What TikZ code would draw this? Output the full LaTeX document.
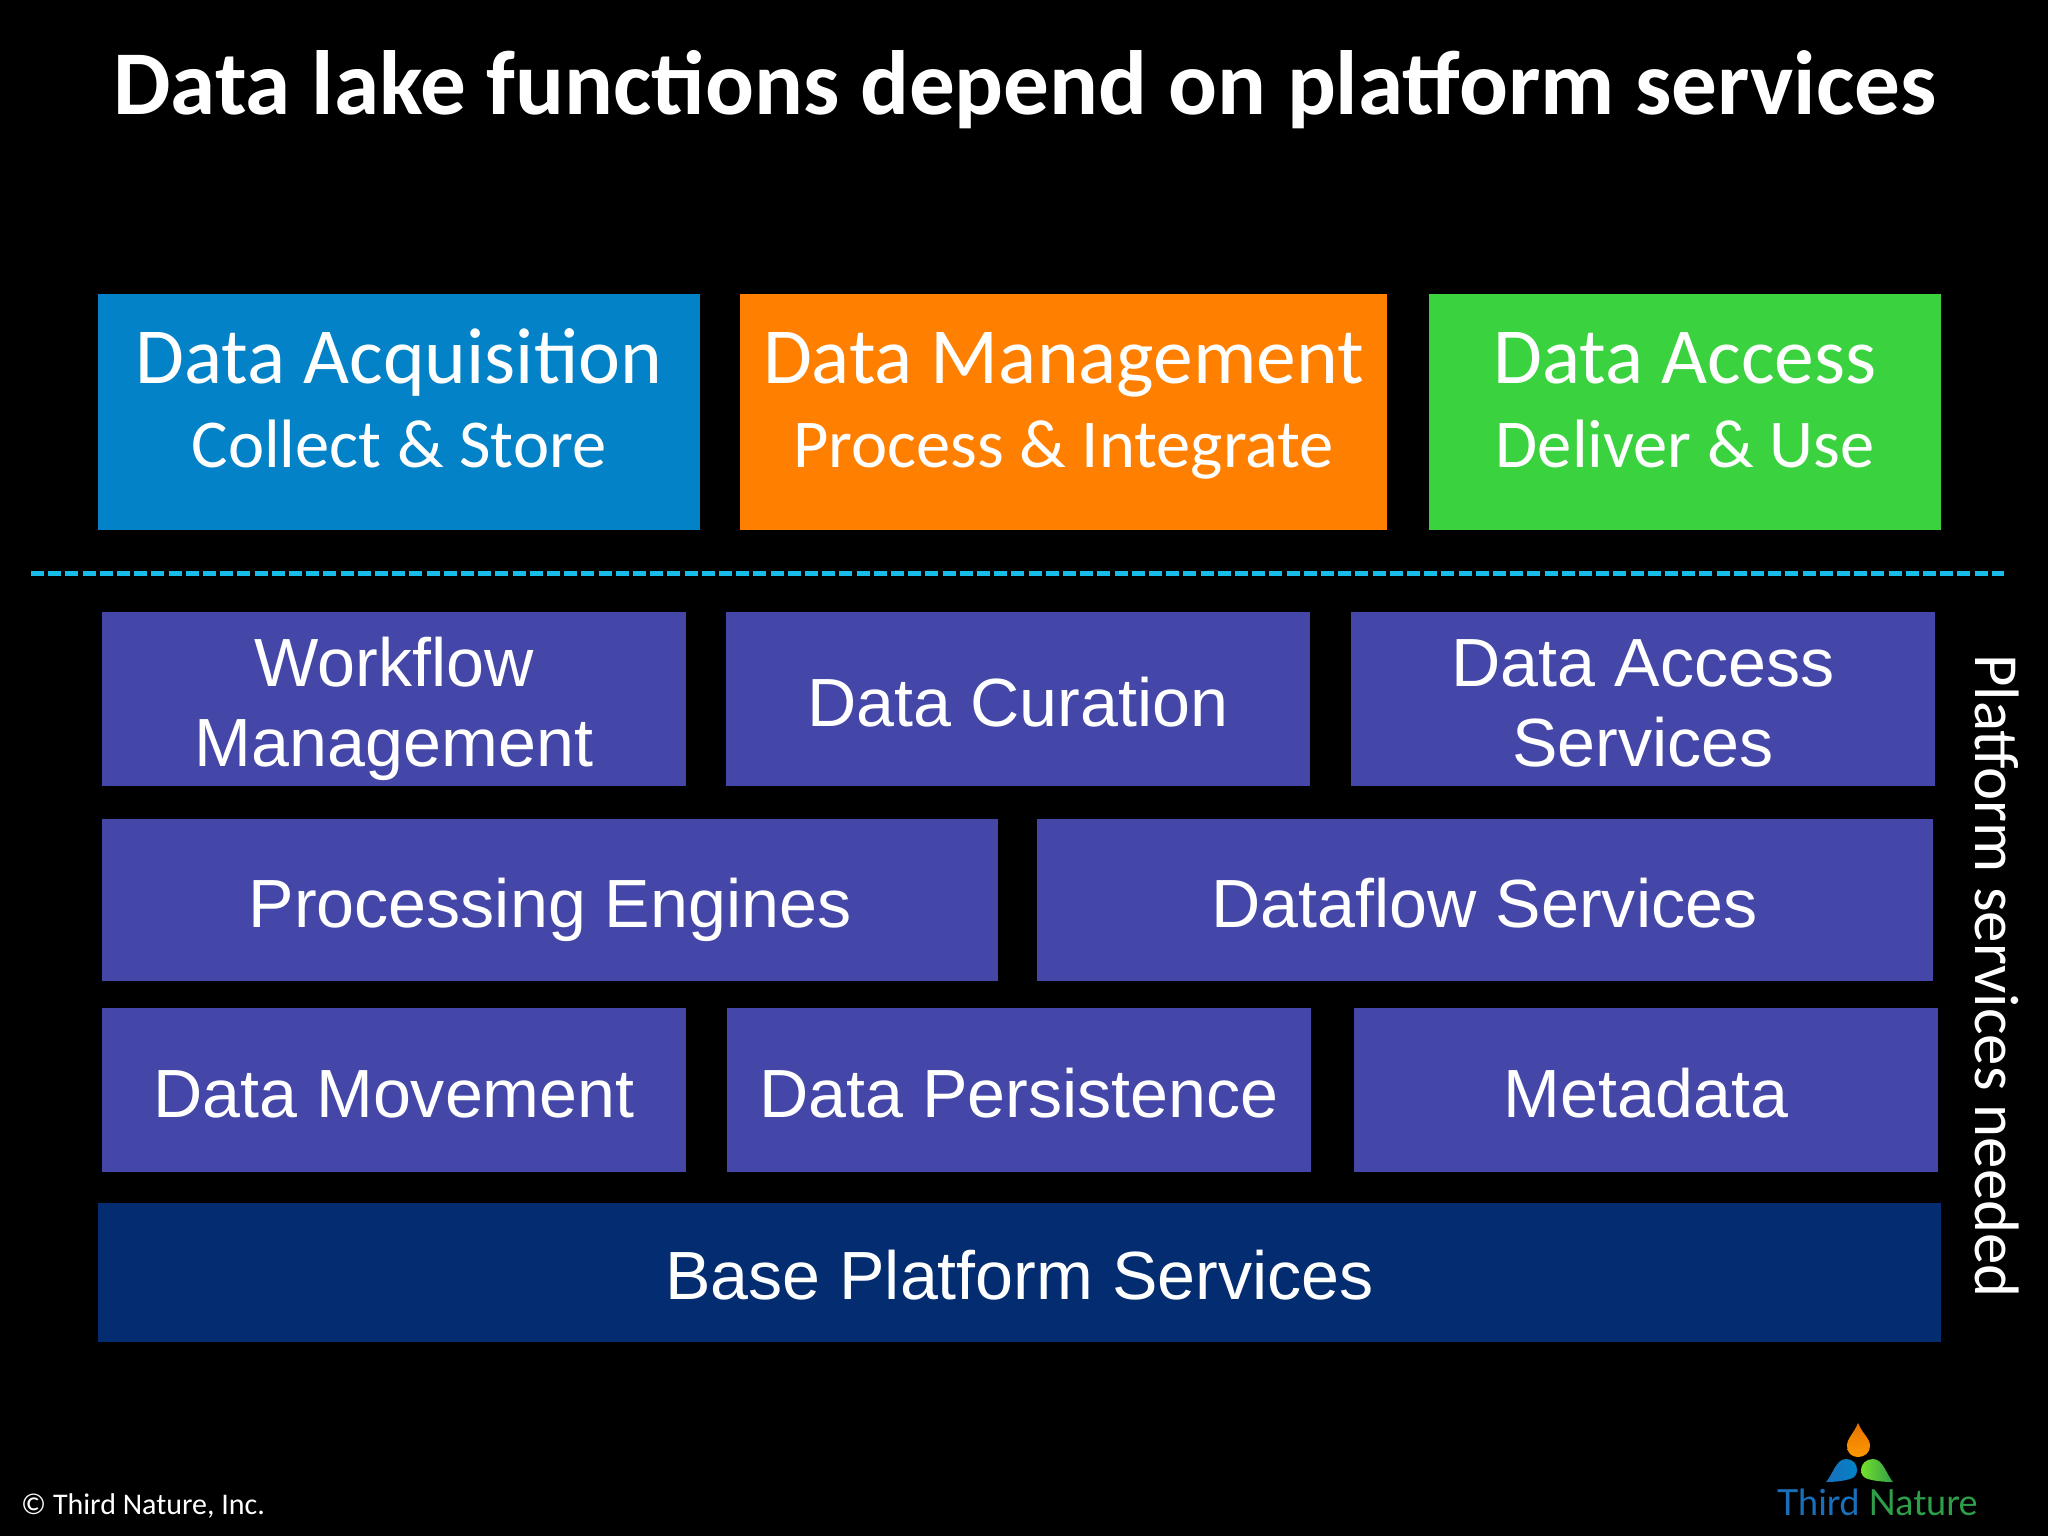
\documentclass[tikz,border=0pt]{standalone}
\usepackage{fontspec}
\setmainfont{Carlito}
\newfontfamily\arialfont{Liberation Sans}
\newfontfamily\logofont{Lato}
\definecolor{acqblue}{HTML}{0382C8}
\definecolor{mgmtorange}{HTML}{FF7F00}
\definecolor{accessgreen}{HTML}{3AD33F}
\definecolor{svcpurple}{HTML}{4447A8}
\definecolor{basenavy}{HTML}{032D70}
\definecolor{dashcyan}{HTML}{18BCE8}
\definecolor{logoblue}{HTML}{1A6FBA}
\definecolor{logogreen}{HTML}{2F9E48}
\newcommand{\fnt}[1]{\fontsize{#1}{#1}\selectfont}
\newcommand{\lift}{\rule[-16pt]{0pt}{87pt}}
\newcommand{\svctext}[2]{\rule{0pt}{71pt}#1\\[12pt]\rule[-16pt]{0pt}{16pt}#2}
\newcommand{\functext}[2]{\rule{0pt}{60pt}#1\\[4pt]{\fnt{68.5}\rule[-33pt]{0pt}{33pt}#2}}

\begin{document}
\begin{tikzpicture}
   [x=1pt,y=-1pt,
    every node/.style={inner sep=0pt,text=white,align=center},
    func/.style={font=\fnt{79.5},minimum height=236pt},
    svc/.style={font=\arialfont\fnt{68.2},fill=svcpurple,minimum width=584pt},
    wide/.style={font=\arialfont\fnt{68.2},fill=svcpurple,minimum width=896pt,minimum height=162pt}]

  \fill[black] (0,0) rectangle (2048,1536);
  \useasboundingbox (0,0) rectangle (2048,1536);

  \node[font=\bfseries\fnt{91.2}] (title) at (1025,90) {Data lake functions depend on platform services};

  \node[func,fill=acqblue,minimum width=602pt] (acq) at (399,412)  {\functext{Data Acquisition}{Collect \& Store}};
  \node[func,fill=mgmtorange,minimum width=647pt] (mgmt) at (1063.5,412) {\functext{Data Management}{Process \& Integrate}};
  \node[func,fill=accessgreen,minimum width=512pt] (access) at (1685,412) {\functext{Data Access}{Deliver \& Use}};

  \coordinate (dashl) at (31,573.5);
  \coordinate (dashr) at (2004,573.5);
  \draw[dashcyan,line width=4.5pt,dash pattern=on 13pt off 4.2pt] (dashl) -- (dashr);

  \node[svc,minimum height=174pt] (wf) at (394,699)  {\svctext{Workflow}{Management}};
  \node[svc,minimum height=174pt] (cur) at (1018,699) {\lift Data Curation};
  \node[svc,minimum height=174pt] (das) at (1643,699) {\svctext{Data Access}{Services}};

  \node[wide] (proc) at (550,900) {\lift Processing Engines};
  \node[wide] (flow) at (1484.5,900) {\lift Dataflow Services};

  \node[svc,minimum height=164pt] (move) at (394,1090) {\lift Data Movement};
  \node[svc,minimum height=164pt] (pers) at (1019,1090) {\lift Data Persistence};
  \node[svc,minimum height=164pt] (meta) at (1646,1090) {\lift Metadata};

  \node[font=\arialfont\fnt{68.2},fill=basenavy,minimum width=1843pt,minimum height=139pt] (base) at (1019.5,1272) {\lift Base Platform Services};

  \node[font=\fnt{62.8},rotate=-90] (needed) at (1997,976) {Platform services needed};

  \node[font=\fnt{30},anchor=west] (copy) at (21,1506) {© Third Nature, Inc.};

  \fill[top color=mgmtorange!90!black,bottom color=orange!80!yellow] (1858,1423) .. controls (1853,1435) and (1847,1438) .. (1847,1446) .. controls (1847,1453) and (1852,1457) .. (1858,1457) .. controls (1864,1457) and (1870,1453) .. (1870,1446) .. controls (1870,1438) and (1863,1435) .. (1858,1423) -- cycle;
  \fill[left color=logoblue,right color=acqblue] (1826,1482) .. controls (1833,1474) and (1836,1459) .. (1846,1459) .. controls (1853,1459) and (1857,1464) .. (1857,1470) .. controls (1857,1475) and (1854,1478) .. (1850,1479) .. controls (1843,1481) and (1835,1482) .. (1826,1482) -- cycle;
  \fill[left color=accessgreen!70!yellow,right color=logogreen] (1893,1482) .. controls (1886,1474) and (1883,1459) .. (1873,1459) .. controls (1866,1459) and (1861,1464) .. (1861,1470) .. controls (1861,1475) and (1864,1478) .. (1868,1479) .. controls (1875,1481) and (1884,1482) .. (1893,1482) -- cycle;
  \node[font=\logofont\fnt{36},anchor=base west] (third) at (1777,1515) {\textcolor{logoblue}{Third} \textcolor{logogreen}{Nature}};
\end{tikzpicture}
\end{document}
